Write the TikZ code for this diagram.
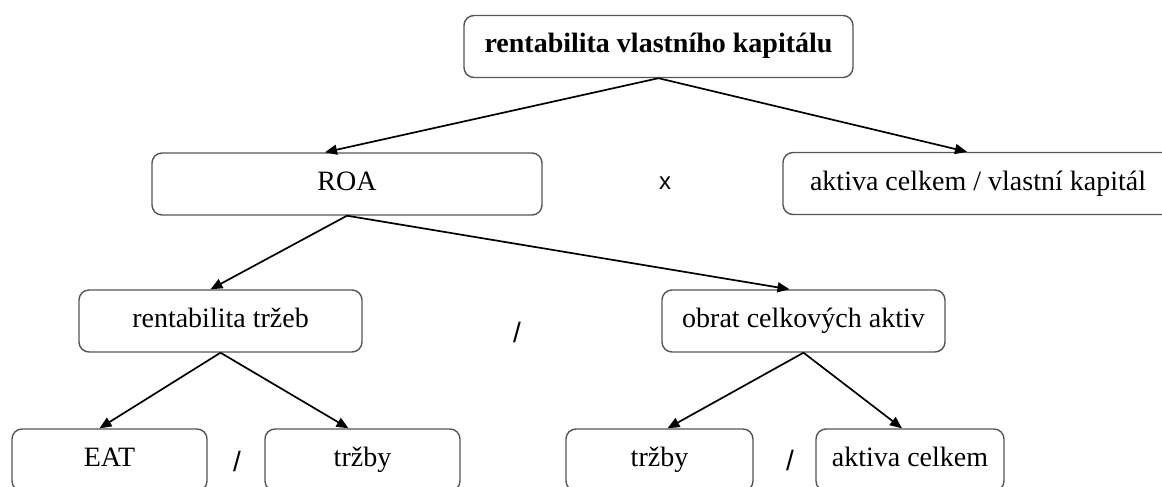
\documentclass[tikz,border=0pt]{standalone}
\usepackage{fontspec}
\setmainfont{Liberation Serif}
\setsansfont{Liberation Sans}
\usepackage{tikz}
\usetikzlibrary{arrows.meta}
\definecolor{myframe}{RGB}{85,85,85}
\tikzstyle{box}=[draw=myframe,line width=0.7pt,rounded corners=5pt,minimum height=31pt,inner sep=0pt,text height=9.5pt,text depth=3pt,font=\fontsize{14}{17}\selectfont]
\tikzstyle{op}=[inner sep=0pt,font=\sffamily\fontsize{14}{17}\selectfont]
\tikzstyle{link}=[-{Triangle[length=6pt,width=5pt]},line width=0.85pt]

\begin{document}
\begin{tikzpicture}[x=0.5pt,y=-0.5pt]
\clip (0,0) rectangle (1162,487);

% top level
\node [box, minimum width=194.5pt, font=\fontsize{14}{17}\selectfont\bfseries] (roe) at (658.5,46.5) {rentabilita vlastního kapitálu};

% second level
\node [box, minimum width=195pt] (roa) at (347,184) {ROA};
\node [box, minimum width=195pt] (leverage) at (978,183.5) {aktiva celkem / vlastní kapitál};
\node [op, font=\sffamily\fontsize{12}{14}\selectfont] (times) at (665,183) {x};

% third level
\node [box, minimum width=141.5pt] (ros) at (220.5,321) {rentabilita tržeb};
\node [box, minimum width=141.5pt] (turnover) at (803.5,321) {obrat celkových aktiv};
\node [op] (div1) at (517,332) {/};

% bottom level
\node [box, minimum width=97.5pt] (eat) at (109.5,460) {EAT};
\node [box, minimum width=97.5pt] (sales1) at (362.5,460) {tržby};
\node [op] (div2) at (237,461) {/};
\node [box, minimum width=93.5pt] (sales2) at (659.5,460) {tržby};
\node [box, minimum width=94pt] (assets) at (910,460) {aktiva celkem};
\node [op] (div3) at (790,460) {/};

% connectors
\draw [link] (roe.south) -- ([xshift=-11pt]roa.north);
\draw [link] (roe.south) -- ([xshift=-5.5pt]leverage.north);
\draw [link] (roa.south) -- ([xshift=-5pt]ros.north);
\draw [link] (roa.south) -- ([xshift=-7pt]turnover.north);
\draw [link] (ros.south) -- ([xshift=-5pt]eat.north);
\draw [link] (ros.south) -- ([xshift=-7pt]sales1.north);
\draw [link] (turnover.south) -- ([xshift=4pt]sales2.north);
\draw [link] (turnover.south) -- ([xshift=-4pt]assets.north);
\end{tikzpicture}
\end{document}
